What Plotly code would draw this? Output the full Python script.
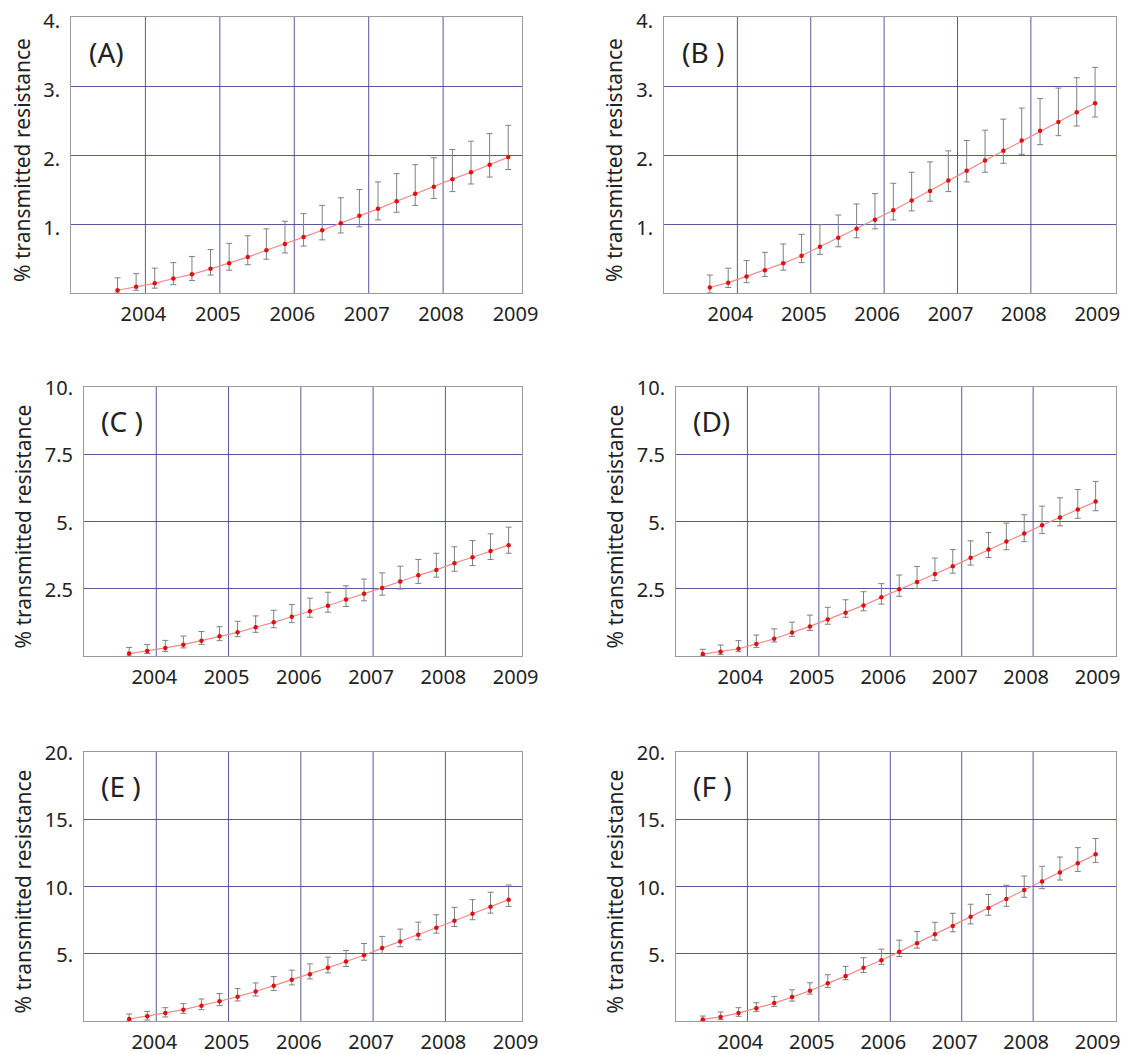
import plotly.graph_objects as go

# ---------------- data ----------------
quarters_22 = [2003.625, 2003.875, 2004.125, 2004.375, 2004.625, 2004.875,
               2005.125, 2005.375, 2005.625, 2005.875, 2006.125, 2006.375,
               2006.625, 2006.875, 2007.125, 2007.375, 2007.625, 2007.875,
               2008.125, 2008.375, 2008.625, 2008.875]
quarters_23 = [2003.375] + quarters_22

# Panel A
a_mean = [0.04, 0.09, 0.14, 0.21, 0.27, 0.35, 0.43, 0.52, 0.62, 0.71, 0.81,
          0.91, 1.01, 1.12, 1.22, 1.33, 1.44, 1.54, 1.65, 1.75, 1.86, 1.97]
a_upper = [0.22, 0.28, 0.36, 0.44, 0.53, 0.63, 0.72, 0.83, 0.93, 1.04, 1.15,
           1.27, 1.38, 1.50, 1.61, 1.73, 1.86, 1.96, 2.08, 2.20, 2.31, 2.43]
a_lower = [0.00, 0.04, 0.07, 0.12, 0.18, 0.26, 0.33, 0.41, 0.49, 0.58, 0.68,
           0.77, 0.87, 0.96, 1.06, 1.17, 1.27, 1.37, 1.47, 1.58, 1.68, 1.79]

# Panel B
b_mean = [0.08, 0.15, 0.24, 0.33, 0.43, 0.54, 0.67, 0.80, 0.93, 1.06, 1.20,
          1.34, 1.48, 1.63, 1.77, 1.92, 2.06, 2.21, 2.35, 2.48, 2.62, 2.75]
b_upper = [0.26, 0.36, 0.47, 0.59, 0.71, 0.85, 0.99, 1.13, 1.29, 1.44, 1.59,
           1.75, 1.90, 2.06, 2.21, 2.36, 2.52, 2.68, 2.82, 2.97, 3.12, 3.27]
b_lower = [0.00, 0.08, 0.15, 0.24, 0.33, 0.44, 0.56, 0.67, 0.80, 0.93, 1.06,
           1.19, 1.33, 1.47, 1.61, 1.75, 1.88, 2.01, 2.15, 2.28, 2.42, 2.55]

# Panel C
c_mean = [0.09, 0.19, 0.30, 0.42, 0.57, 0.73, 0.88, 1.07, 1.25, 1.46, 1.66,
          1.87, 2.10, 2.31, 2.53, 2.77, 3.00, 3.20, 3.45, 3.67, 3.90, 4.12]
c_upper = [0.32, 0.43, 0.58, 0.74, 0.91, 1.09, 1.29, 1.49, 1.70, 1.91, 2.15,
           2.37, 2.61, 2.86, 3.09, 3.34, 3.59, 3.82, 4.06, 4.29, 4.54, 4.79]
c_lower = [0.00, 0.09, 0.17, 0.30, 0.43, 0.57, 0.72, 0.88, 1.05, 1.24, 1.44,
           1.63, 1.84, 2.05, 2.26, 2.49, 2.70, 2.93, 3.15, 3.36, 3.59, 3.82]

# Panel D
d_mean = [0.07, 0.16, 0.27, 0.45, 0.64, 0.87, 1.10, 1.36, 1.61, 1.88, 2.18,
          2.48, 2.75, 3.05, 3.34, 3.65, 3.96, 4.26, 4.55, 4.86, 5.15, 5.45, 5.74]
d_upper = [0.25, 0.41, 0.57, 0.78, 1.01, 1.26, 1.52, 1.81, 2.09, 2.39, 2.69,
           3.01, 3.33, 3.64, 3.96, 4.28, 4.59, 4.94, 5.25, 5.57, 5.88, 6.19, 6.49]
d_lower = [0.00, 0.05, 0.16, 0.32, 0.52, 0.73, 0.95, 1.18, 1.44, 1.68, 1.93,
           2.22, 2.51, 2.80, 3.08, 3.38, 3.66, 3.95, 4.25, 4.55, 4.84, 5.12, 5.40]

# Panel E
e_mean = [0.15, 0.35, 0.60, 0.84, 1.14, 1.47, 1.81, 2.19, 2.63, 3.06, 3.48,
          3.95, 4.42, 4.89, 5.42, 5.91, 6.41, 6.93, 7.45, 7.98, 8.50, 9.02]
e_upper = [0.52, 0.72, 0.99, 1.29, 1.64, 2.04, 2.41, 2.83, 3.30, 3.78, 4.25,
           4.75, 5.24, 5.76, 6.29, 6.83, 7.35, 7.90, 8.45, 9.02, 9.57, 10.11]
e_lower = [0.00, 0.07, 0.30, 0.57, 0.84, 1.14, 1.49, 1.86, 2.26, 2.68, 3.13,
           3.58, 4.05, 4.52, 5.02, 5.52, 6.04, 6.53, 7.03, 7.53, 8.02, 8.52]

# Panel F
f_mean = [0.12, 0.30, 0.59, 0.94, 1.33, 1.78, 2.25, 2.80, 3.34, 3.96, 4.52,
          5.14, 5.78, 6.45, 7.07, 7.76, 8.41, 9.07, 9.74, 10.38, 11.05, 11.72, 12.39]
f_upper = [0.37, 0.67, 0.99, 1.36, 1.83, 2.32, 2.84, 3.44, 4.06, 4.70, 5.34,
           6.01, 6.65, 7.34, 8.01, 8.68, 9.40, 10.09, 10.78, 11.50, 12.19, 12.89, 13.57]
f_lower = [0.00, 0.10, 0.35, 0.72, 1.09, 1.48, 2.00, 2.50, 3.07, 3.61, 4.21,
           4.80, 5.42, 6.01, 6.63, 7.22, 7.86, 8.53, 9.20, 9.84, 10.48, 11.12, 11.79]

year_ticks = [2004, 2005, 2006, 2007, 2008, 2009]
year_grid = [2004, 2005, 2006, 2007, 2008]
year_labels = ["2004", "2005", "2006", "2007", "2008", "2009"]

y_ticks_small = [1, 2, 3, 4]
y_labels_small = ["1.", "2.", "3.", "4."]
y_ticks_mid = [2.5, 5, 7.5, 10]
y_labels_mid = ["2.5", "5.", "7.5", "10."]
y_ticks_big = [5, 10, 15, 20]
y_labels_big = ["5.", "10.", "15.", "20."]

panel_labels = ["(A)", "(B )", "(C )", "(D)", "(E )", "(F )"]
y_title = "% transmitted resistance"

# ---------------- layout geometry (screen pixels) ----------------
W, H = 1129, 1054
OFF = 8  # page body margin offsets the plot on screen
# (left, right, top, bottom), title x, x-range end, x tick label shift, y tick label shift
panels = [
    (quarters_22, a_mean, a_upper, a_lower, y_ticks_small, y_labels_small, 4, (71, 522, 17, 293), 22, 2009.06, -2, 4),
    (quarters_22, b_mean, b_upper, b_lower, y_ticks_small, y_labels_small, 4, (664, 1116, 17, 293), 614, 2009.16, -7, 4),
    (quarters_22, c_mean, c_upper, c_lower, y_ticks_mid, y_labels_mid, 10, (84, 522, 387, 656), 22, 2009.06, -2, 1),
    (quarters_23, d_mean, d_upper, d_lower, y_ticks_mid, y_labels_mid, 10, (676, 1116, 387, 656), 614, 2009.16, -7, 1),
    (quarters_22, e_mean, e_upper, e_lower, y_ticks_big, y_labels_big, 20, (84, 522, 752, 1021), 22, 2009.06, -2, 1),
    (quarters_23, f_mean, f_upper, f_lower, y_ticks_big, y_labels_big, 20, (676, 1116, 752, 1021), 614, 2009.16, -7, 1),
]

FONT = "Noto Sans, Open Sans, sans-serif"
GRID = "rgba(60,60,140,0.85)"
FRAME = "#9a9a9a"
TXT = "#222"

fig = go.Figure()
layout = dict(
    template="none",
    width=W, height=H,
    margin=dict(l=0, r=0, t=0, b=0, pad=0),
    paper_bgcolor="white", plot_bgcolor="white",
    showlegend=False,
    font=dict(family=FONT, size=20, color=TXT),
)
annotations = []
shapes = []

def px_x(v):
    return (v - OFF) / W

def px_y(v):
    return 1 - (v - OFF) / H

for i, (xs, m, up, lo, yt, yl, ymax, (l, r, t, b), tx, xend, xshift, yshift) in enumerate(panels):
    n = i + 1
    xa = "x" if n == 1 else f"x{n}"
    ya = "y" if n == 1 else f"y{n}"
    xkey = "xaxis" if n == 1 else f"xaxis{n}"
    ykey = "yaxis" if n == 1 else f"yaxis{n}"

    err_plus = [u - v for u, v in zip(up, m)]
    err_minus = [v - w for v, w in zip(m, lo)]

    fig.add_trace(go.Scatter(
        x=xs, y=m, xaxis=xa, yaxis=ya, mode="lines+markers",
        line=dict(color="#f08a8a", width=1.2),
        marker=dict(color="#e01010", size=4.5, line=dict(width=0)),
        error_y=dict(type="data", symmetric=False, array=err_plus,
                     arrayminus=err_minus, color="#808080",
                     thickness=1, width=3),
        cliponaxis=True,
    ))

    layout[xkey] = dict(
        domain=[px_x(l), px_x(r)], anchor=ya,
        range=[2003.0, xend],
        tickvals=year_ticks, ticktext=year_labels,
        showgrid=False, zeroline=False, automargin=False,
        showline=True, linecolor=FRAME, linewidth=1, mirror=True,
        ticks="", ticklabelstandoff=3, ticklabelshift=xshift,
        ticklabeloverflow="allow",
        tickfont=dict(size=20, family=FONT, color=TXT),
    )
    layout[ykey] = dict(
        domain=[px_y(b), px_y(t)], anchor=xa,
        range=[0, ymax],
        tickvals=yt, ticktext=yl,
        showgrid=True, gridcolor=GRID, gridwidth=1,
        zeroline=False, automargin=False,
        showline=True, linecolor=FRAME, linewidth=1, mirror=True,
        ticks="", ticklabelstandoff=6, ticklabelshift=yshift,
        ticklabeloverflow="allow",
        tickfont=dict(size=20, family=FONT, color=TXT),
    )

    for g in year_grid:
        shapes.append(dict(type="line", xref=xa, yref=f"{ya} domain",
                           x0=g, x1=g, y0=0, y1=1,
                           line=dict(color=GRID, width=1), layer="below"))

    annotations.append(dict(
        text=panel_labels[i], xref=f"{xa} domain", yref=f"{ya} domain",
        x=0.035, y=0.875, xanchor="left", yanchor="middle", showarrow=False,
        font=dict(size=28, family=FONT, color=TXT),
    ))
    annotations.append(dict(
        text=y_title, xref="paper", yref="paper",
        x=px_x(tx), y=px_y((t + b) / 2 + 5), textangle=-90,
        xanchor="center", yanchor="middle", showarrow=False,
        font=dict(size=21, family=FONT, color=TXT),
    ))

layout["annotations"] = annotations
layout["shapes"] = shapes
fig.update_layout(**layout)

fig.write_html("out.html")
